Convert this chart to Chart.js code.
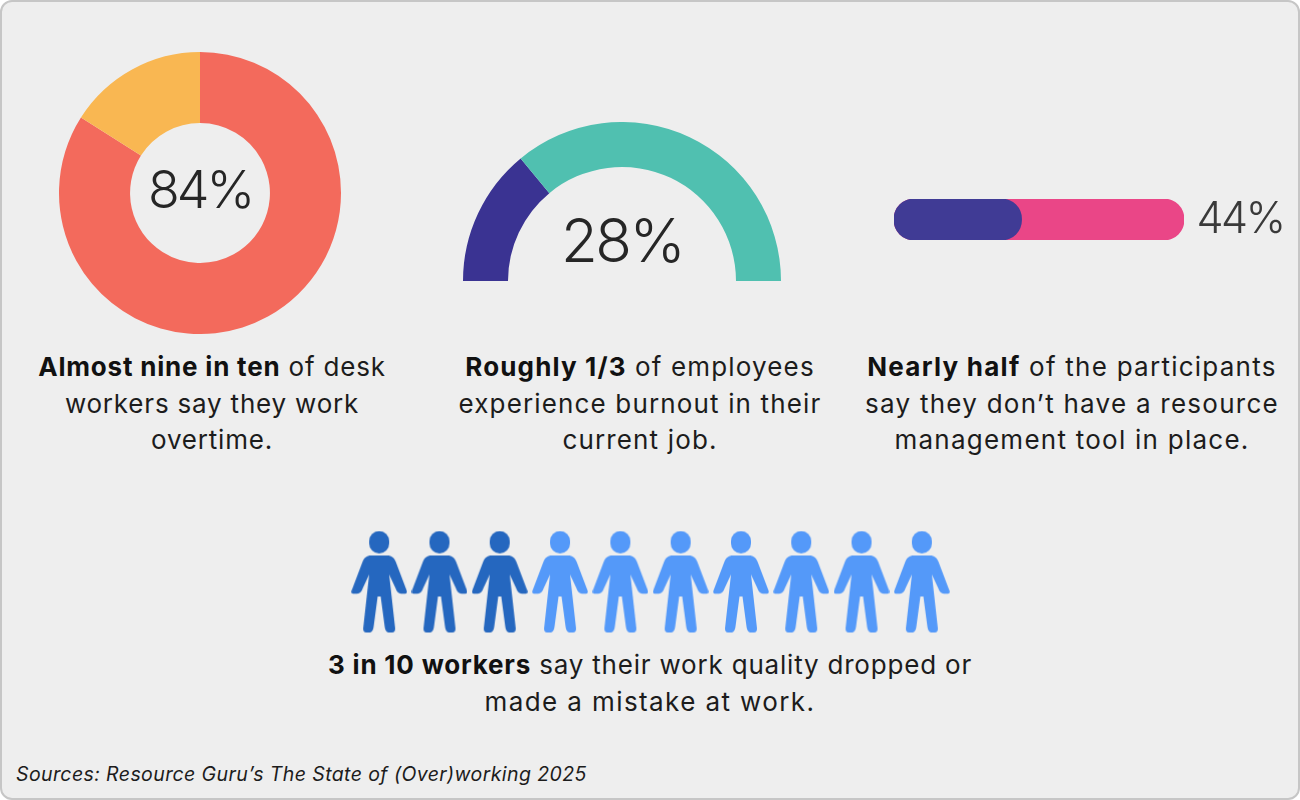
<!DOCTYPE html>
<html>
<head>
<meta charset="utf-8">
<title>The State of (Over)working 2025</title>
<script src="https://cdn.jsdelivr.net/npm/chart.js@4"></script>
<style>
html, body { margin: 0; padding: 0; background: #fff; }
#card {
    position: absolute; left: 0; top: 0; width: 1296px; height: 796px;
    background: #eeeeee; border: 2px solid #c6c6c6; border-radius: 12px;
    overflow: hidden;
}
#page { position: absolute; left: 0; top: 0; width: 1300px; height: 800px; font-family: Inter, sans-serif; color: #1c1c1c; }
canvas { position: absolute; }
.note { position: absolute; width: 440px; text-align: center; font-size: 26px; line-height: 36.6px; white-space: nowrap; }
.note b { font-weight: 700; color: #111; }
.big { position: absolute; width: 200px; text-align: center; font-weight: 350; color: #262626; white-space: nowrap; }
#src { position: absolute; left: 16px; top: 762px; font-size: 19.5px; letter-spacing: 0.4px; font-style: italic; color: #1c1c1c; white-space: nowrap; }
</style>
</head>
<body>
<div id="page">
    <div id="card"></div>
    <canvas id="overtime" width="282" height="282" style="left:59px;top:51.5px"></canvas>
    <canvas id="burnout" width="318" height="159" style="left:463px;top:122px"></canvas>
    <canvas id="noTool" width="290" height="41" style="left:894px;top:199px"></canvas>
    <canvas id="quality" width="603" height="110" style="left:349px;top:527px"></canvas>

    <div class="big" style="left:100px;top:152px;font-size:52px;line-height:76px;letter-spacing:-3px">84%</div>
    <div class="big" style="left:522px;top:202px;font-size:60px;line-height:76px;letter-spacing:-2.5px">28%</div>
    <div class="big" style="left:1140px;top:190px;font-size:43px;line-height:54px;letter-spacing:-2.5px;color:#3a3a3a">44%</div>

    <div class="note" style="left:-8px;top:349px;letter-spacing:0.8px"><b>Almost nine in ten</b> of desk<br>workers say they work<br>overtime.</div>
    <div class="note" style="left:420px;top:349px;letter-spacing:1.15px"><b>Roughly 1/3</b> of employees<br>experience burnout in their<br>current job.</div>
    <div class="note" style="left:852px;top:349px;letter-spacing:1.25px"><b>Nearly half</b> of the participants<br>say they don’t have a resource<br>management tool in place.</div>
    <div class="note" style="left:250px;width:800px;top:647px;letter-spacing:0.8px"><b>3 in 10 workers</b> say their work quality dropped or<br><span style="letter-spacing:1.4px">made a mistake at work.</span></div>

    <div id="src">Sources: Resource Guru’s The State of (Over)working 2025</div>
</div>

<script>
const overtimeLabels = ['Work overtime', 'Do not'];
const overtimeValues = [84, 16];
const burnoutLabels = ['Burnout', 'No burnout'];
const burnoutValues = [28, 72];
const noToolShare = [44];
const noToolWhole = [100];
const qualityLabels = ['1', '2', '3', '4', '5', '6', '7', '8', '9', '10'];
const qualityRow = [1, 1, 1, 1, 1, 1, 1, 1, 1, 1];
const qualityAffected = [true, true, true, false, false, false, false, false, false, false];

Chart.defaults.animation = false;
Chart.defaults.responsive = false;
Chart.defaults.plugins.legend.display = false;
Chart.defaults.plugins.tooltip.enabled = false;

new Chart(document.getElementById('overtime'), {
    type: 'doughnut',
    data: {
        labels: overtimeLabels,
        datasets: [{ data: overtimeValues, backgroundColor: ['#f36a5c', '#f9b752'], borderWidth: 0 }]
    },
    options: { cutout: '49.6%' }
});

new Chart(document.getElementById('burnout'), {
    type: 'doughnut',
    data: {
        labels: burnoutLabels,
        datasets: [{ data: burnoutValues, backgroundColor: ['#3a3392', '#50c0b0'], borderWidth: 0 }]
    },
    options: { cutout: '71.7%', rotation: -90, circumference: 180 }
});

new Chart(document.getElementById('noTool'), {
    type: 'bar',
    data: {
        labels: ['No tool'],
        datasets: [
            { data: noToolShare, backgroundColor: '#403b95', borderRadius: 20, borderSkipped: false },
            { data: noToolWhole, backgroundColor: '#ea4687', borderRadius: 20, borderSkipped: false }
        ]
    },
    options: {
        indexAxis: 'y',
        grouped: false,
        barPercentage: 1,
        categoryPercentage: 1,
        scales: {
            x: { display: false, min: 0, max: 100 },
            y: { display: false }
        }
    }
});

// the little figure, 56 wide and 102 high
function personIcon(color) {
    const c = document.createElement('canvas');
    c.width = 56;
    c.height = 103;
    const g = c.getContext('2d');
    g.fillStyle = color;
    g.beginPath();
    g.roundRect(18, 0.5, 20, 22.5, 10);
    g.fill();
    g.beginPath();
    g.moveTo(20, 25);
    g.lineTo(36, 25);
    g.bezierCurveTo(40.5, 25, 43, 27.5, 44.5, 31);
    g.lineTo(55.5, 60);
    g.quadraticCurveTo(56.5, 63, 54, 63.3);
    g.lineTo(50, 63.3);
    g.quadraticCurveTo(46, 63, 44.5, 58);
    g.lineTo(38, 44);
    g.lineTo(44, 98);
    g.quadraticCurveTo(44, 102, 41, 102);
    g.lineTo(37, 102);
    g.quadraticCurveTo(34, 101, 33.5, 96);
    g.lineTo(29.5, 66);
    g.lineTo(26.5, 66);
    g.lineTo(22.5, 96);
    g.quadraticCurveTo(22, 101, 19, 102);
    g.lineTo(15, 102);
    g.quadraticCurveTo(12, 102, 12, 98);
    g.lineTo(18, 44);
    g.lineTo(11.5, 58);
    g.quadraticCurveTo(10, 63, 6, 63.3);
    g.lineTo(2, 63.3);
    g.quadraticCurveTo(-0.5, 63, 0.5, 60);
    g.lineTo(11.5, 31);
    g.bezierCurveTo(13, 27.5, 15.5, 25, 20, 25);
    g.closePath();
    g.fill();
    return c;
}
const darkPerson = personIcon('#2567bf');
const lightPerson = personIcon('#5499f9');

new Chart(document.getElementById('quality'), {
    type: 'line',
    data: {
        labels: qualityLabels,
        datasets: [{
            data: qualityRow,
            showLine: false,
            pointStyle: qualityAffected.map(a => a ? darkPerson : lightPerson)
        }]
    },
    options: {
        layout: { autoPadding: false },
        scales: {
            x: { display: false, offset: true },
            y: { display: false, min: 0, max: 2 }
        }
    }
});
</script>
</body>
</html>
